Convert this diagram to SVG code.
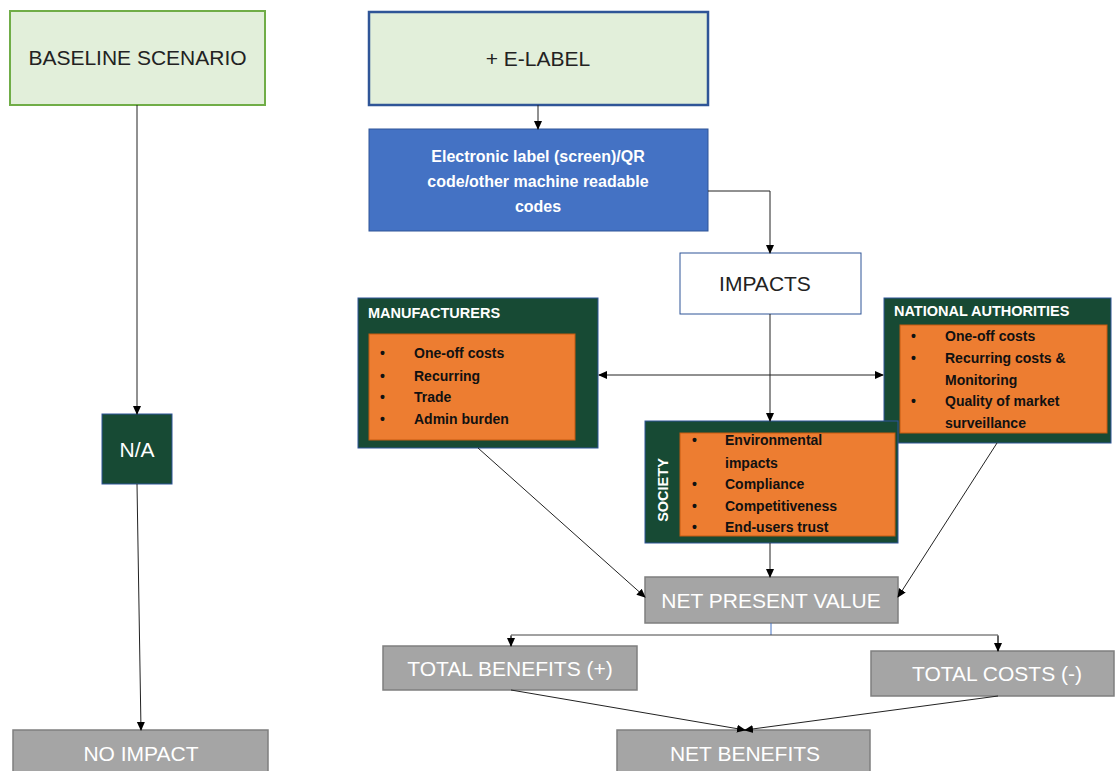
<svg xmlns="http://www.w3.org/2000/svg" width="1115" height="771" viewBox="0 0 1115 771">
<style>
text{font-family:"Liberation Sans",Arial,sans-serif}
.green{fill:#e2efda;stroke:#70ad47;stroke-width:2}
.elab{fill:#e2efda;stroke:#2f5597;stroke-width:2.5}
.blue{fill:#4472c4;stroke:#2f5597;stroke-width:1}
.white{fill:#fff;stroke:#2f5597;stroke-width:1}
.dk{fill:#174a34;stroke:#2f5597;stroke-width:1}
.or{fill:#ed7d31;stroke:#c55a11;stroke-width:1}
.gr{fill:#a5a5a5;stroke:#7f7f7f;stroke-width:1.5}
.t22{font-size:21px;fill:#222}
.w22{font-size:21px;fill:#fff}
.ttl{font-size:14.5px;font-weight:bold;fill:#fff}
.b{font-size:14px;font-weight:bold;fill:#111}
.conn line,.conn path{stroke:#222;stroke-width:1;fill:none}
</style>
<defs>
<marker id="ah" markerWidth="10" markerHeight="10" refX="8" refY="5" orient="auto" markerUnits="userSpaceOnUse">
<path d="M0,1 L9,5 L0,9 z" fill="#000"/>
</marker>
<marker id="as" markerWidth="10" markerHeight="10" refX="1" refY="5" orient="auto" markerUnits="userSpaceOnUse">
<path d="M9,1 L0,5 L9,9 z" fill="#000"/>
</marker>
</defs>

<g id="baseline"><rect class="green" x="10" y="11" width="255" height="94"/><text class="t22" x="137.5" y="65" text-anchor="middle">BASELINE SCENARIO</text></g>
<g id="elabel"><rect class="elab" x="369" y="12" width="339" height="93"/><text class="t22" x="538" y="66" text-anchor="middle">+ E-LABEL</text></g>
<g id="electronic"><rect class="blue" x="369" y="129" width="339" height="102"/>
<text x="538" y="162" text-anchor="middle" style="font-size:16px;font-weight:bold;fill:#fff">Electronic label (screen)/QR</text>
<text x="538" y="187" text-anchor="middle" style="font-size:16px;font-weight:bold;fill:#fff">code/other machine readable</text>
<text x="538" y="212" text-anchor="middle" style="font-size:16px;font-weight:bold;fill:#fff">codes</text></g>
<g id="impacts"><rect class="white" x="680" y="253" width="181" height="61"/><text class="t22" x="765" y="291" text-anchor="middle">IMPACTS</text></g>

<g id="manufacturers"><rect class="dk" x="358" y="298" width="240" height="150"/>
<text class="ttl" x="368" y="318">MANUFACTURERS</text>
<rect class="or" x="369" y="334" width="206" height="106"/>
<g class="b"><text x="380" y="358">•</text><text x="414" y="358">One-off costs</text>
<text x="380" y="381">•</text><text x="414" y="381">Recurring</text>
<text x="380" y="402">•</text><text x="414" y="402">Trade</text>
<text x="380" y="424">•</text><text x="414" y="424">Admin burden</text></g></g>

<g id="national"><rect class="dk" x="884" y="298" width="227" height="145"/>
<text class="ttl" x="894" y="316">NATIONAL AUTHORITIES</text>
<rect class="or" x="900" y="325" width="207" height="108"/>
<g class="b"><text x="911" y="341">•</text><text x="945" y="341">One-off costs</text>
<text x="911" y="363">•</text><text x="945" y="363">Recurring costs &amp;</text>
<text x="945" y="385">Monitoring</text>
<text x="911" y="406">•</text><text x="945" y="406">Quality of market</text>
<text x="945" y="428">surveillance</text></g></g>

<g id="society"><rect class="dk" x="645" y="421" width="253" height="122"/>
<text class="ttl" transform="translate(668,490) rotate(-90)" text-anchor="middle">SOCIETY</text>
<rect class="or" x="680" y="433" width="215" height="103"/>
<g class="b"><text x="692" y="445">•</text><text x="725" y="445">Environmental</text>
<text x="725" y="468">impacts</text>
<text x="692" y="489">•</text><text x="725" y="489">Compliance</text>
<text x="692" y="511">•</text><text x="725" y="511">Competitiveness</text>
<text x="692" y="532">•</text><text x="725" y="532">End-users trust</text></g></g>

<g id="npv"><rect class="gr" x="645" y="577" width="253" height="46"/><text class="w22" x="771" y="608" text-anchor="middle">NET PRESENT VALUE</text></g>
<g id="tb"><rect class="gr" x="383" y="646" width="254" height="44"/><text class="w22" x="510" y="676" text-anchor="middle">TOTAL BENEFITS (+)</text></g>
<g id="tc"><rect class="gr" x="871" y="651" width="243" height="45"/><text class="w22" x="997" y="681" text-anchor="middle">TOTAL COSTS (-)</text></g>
<g id="nb"><rect class="gr" x="617" y="730" width="253" height="46"/><text class="w22" x="745" y="761" text-anchor="middle">NET BENEFITS</text></g>
<g id="na"><rect class="dk" x="102" y="414" width="70" height="70"/><text class="w22" x="137" y="457" text-anchor="middle">N/A</text></g>
<g id="noimpact"><rect class="gr" x="13" y="730" width="255" height="46"/><text class="w22" x="141" y="761" text-anchor="middle">NO IMPACT</text></g>

<g class="conn" id="connectors">
<line x1="137" y1="105" x2="137" y2="414" marker-end="url(#ah)"/>
<line x1="137" y1="484" x2="141" y2="730" marker-end="url(#ah)"/>
<line x1="538" y1="105" x2="538" y2="129" marker-end="url(#ah)"/>
<path d="M708,191 H770 V253" marker-end="url(#ah)"/>
<line x1="770" y1="314" x2="770" y2="421" marker-end="url(#ah)"/>
<line x1="599" y1="375" x2="883" y2="375" marker-start="url(#as)" marker-end="url(#ah)"/>
<line x1="478" y1="448" x2="645" y2="597" marker-end="url(#ah)"/>
<line x1="770" y1="543" x2="770" y2="577" marker-end="url(#ah)"/>
<line x1="997" y1="443" x2="898" y2="597" marker-end="url(#ah)"/>
<line x1="771" y1="623" x2="771" y2="635" style="stroke:#4472c4"/>
<path d="M511,646 V635 H998 V651" style="stroke:#444"/>
<line x1="511" y1="636" x2="511" y2="646" marker-end="url(#ah)"/>
<line x1="998" y1="636" x2="998" y2="651" marker-end="url(#ah)"/>
<line x1="511" y1="690" x2="745" y2="730" marker-end="url(#ah)"/>
<line x1="998" y1="696" x2="745" y2="730" marker-end="url(#ah)"/>
</g>
</svg>
